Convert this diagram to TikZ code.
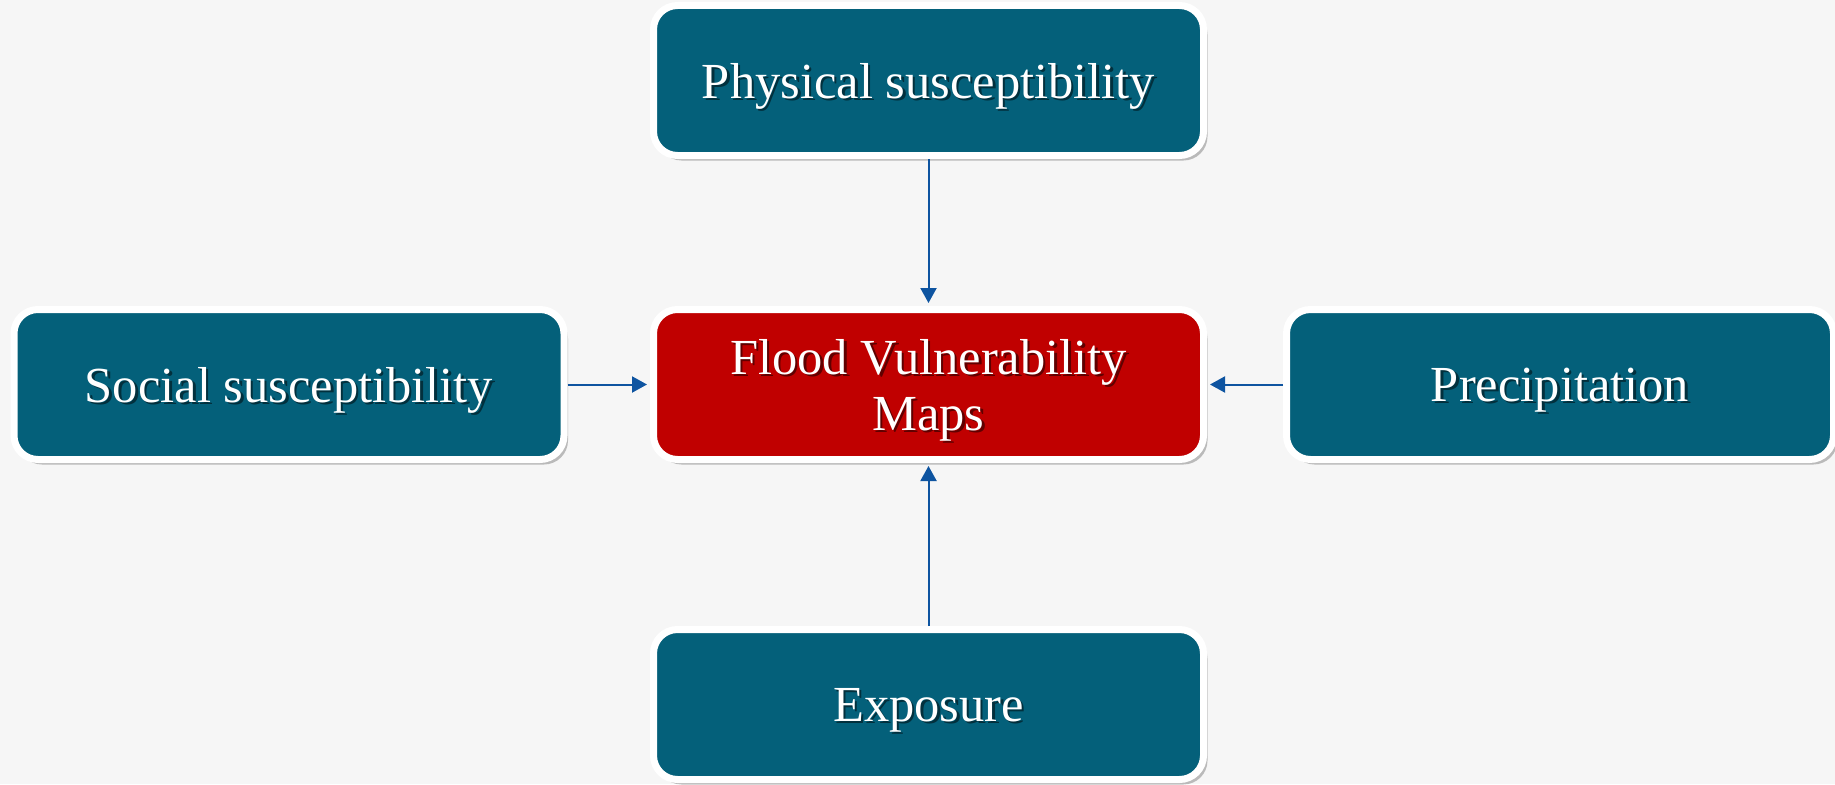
\documentclass[tikz,border=0pt]{standalone}
\usepackage{fontspec}
\setmainfont{Liberation Serif}
\usetikzlibrary{arrows.meta,shadows}
\definecolor{teal}{RGB}{4,96,122}
\definecolor{dred}{RGB}{192,0,0}
\definecolor{arrowblue}{RGB}{14,84,160}
\definecolor{bg}{RGB}{246,246,246}
\newcommand{\shtext}[2]{\leavevmode\rlap{\smash{\raisebox{-2.5pt}{\hspace{2.5pt}\textcolor{#1}{#2}}}}#2}
\tikzset{
  box/.style={draw=white, line width=7pt, rounded corners=24pt,
    minimum width=550pt, minimum height=150pt, inner sep=0pt, text depth=0pt,
    text=white, font=\fontsize{50.5}{56}\selectfont, align=center,
    drop shadow={shadow xshift=4pt, shadow yshift=-5pt, opacity=0.35, fill=black!70}},
  tealbox/.style={box, fill=teal},
  redbox/.style={box, fill=dred},
  conn/.style={draw=arrowblue, line width=2pt, -{Triangle[length=15pt,width=16pt]}, shorten >=3pt}
}
\begin{document}
\begin{tikzpicture}[x=1pt,y=-1pt]
\fill[bg] (0,0) rectangle (1835,784);
\useasboundingbox (0,0) rectangle (1835,784);
\node[tealbox] (phys) at (928.5,80.5) {\shtext{teal!50!black}{Physical susceptibility}};
\node[tealbox] (soc) at (289,384.5) {\shtext{teal!50!black}{Social susceptibility}};
\node[redbox] (flood) at (928.5,384.5) {\shtext{dred!50!black}{Flood Vulnerability}\\\shtext{dred!50!black}{Maps}};
\node[tealbox, minimum width=547pt] (prec) at (1560,384.5) {\shtext{teal!50!black}{Precipitation}};
\node[tealbox] (expo) at (928.5,704.5) {\shtext{teal!50!black}{Exposure}};
\draw[conn] (phys.south) -- (flood.north);
\draw[conn] (soc.east) -- (flood.west);
\draw[conn] (prec.west) -- (flood.east);
\draw[conn] (expo.north) -- (flood.south);
\end{tikzpicture}
\end{document}
